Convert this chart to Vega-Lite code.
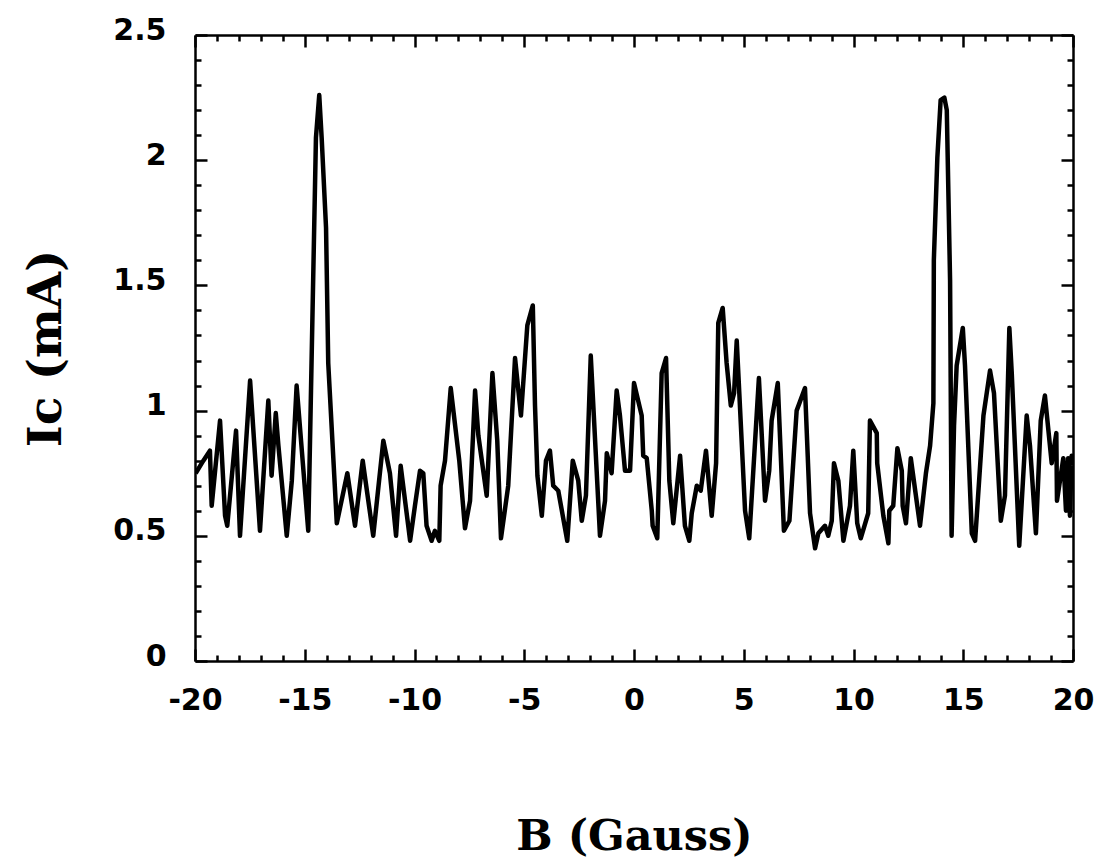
{
  "$schema": "https://vega.github.io/schema/vega-lite/v6.json",
  "autosize": {"type": "none"},
  "width": 878,
  "height": 626,
  "padding": {"left": 195, "top": 35, "right": 30, "bottom": 205},
  "background": "white",
  "config": {
    "view": {"stroke": null},
    "axis": {
      "grid": false,
      "domainColor": "black",
      "domainWidth": 2.5,
      "tickColor": "black",
      "tickWidth": 2.5,
      "labelColor": "black",
      "labelFont": "DejaVu Sans",
      "labelFontWeight": "bold",
      "labelFontSize": 30,
      "labelFlush": false,
      "labelOverlap": false,
      "labelExpr": "'' + datum.value",
      "titleColor": "black",
      "titleFont": "DejaVu Serif",
      "titleFontWeight": "bold",
      "titleFontSize": 43
    }
  },
  "data": {
    "values": [
      {"B": -19.97, "I": 0.75}, {"B": -19.62, "I": 0.80}, {"B": -19.32, "I": 0.84}, {"B": -19.24, "I": 0.62},
      {"B": -18.86, "I": 0.96}, {"B": -18.63, "I": 0.58}, {"B": -18.53, "I": 0.54}, {"B": -18.13, "I": 0.92},
      {"B": -17.95, "I": 0.50}, {"B": -17.49, "I": 1.12}, {"B": -17.04, "I": 0.52}, {"B": -16.66, "I": 1.04},
      {"B": -16.51, "I": 0.74}, {"B": -16.32, "I": 0.99}, {"B": -16.20, "I": 0.86}, {"B": -15.82, "I": 0.50},
      {"B": -15.59, "I": 0.72}, {"B": -15.37, "I": 1.10}, {"B": -14.84, "I": 0.52}, {"B": -14.49, "I": 2.09},
      {"B": -14.34, "I": 2.26}, {"B": -14.23, "I": 2.09}, {"B": -14.03, "I": 1.73}, {"B": -13.93, "I": 1.19},
      {"B": -13.54, "I": 0.55}, {"B": -13.06, "I": 0.75}, {"B": -12.71, "I": 0.54}, {"B": -12.36, "I": 0.80},
      {"B": -11.88, "I": 0.50}, {"B": -11.42, "I": 0.88}, {"B": -11.12, "I": 0.75}, {"B": -10.84, "I": 0.50},
      {"B": -10.63, "I": 0.78}, {"B": -10.20, "I": 0.48}, {"B": -9.98, "I": 0.62}, {"B": -9.75, "I": 0.76},
      {"B": -9.60, "I": 0.75}, {"B": -9.45, "I": 0.54}, {"B": -9.22, "I": 0.48}, {"B": -9.07, "I": 0.52},
      {"B": -8.87, "I": 0.48}, {"B": -8.81, "I": 0.70}, {"B": -8.61, "I": 0.80}, {"B": -8.35, "I": 1.09},
      {"B": -7.96, "I": 0.80}, {"B": -7.70, "I": 0.53}, {"B": -7.47, "I": 0.64}, {"B": -7.24, "I": 1.08},
      {"B": -7.09, "I": 0.90}, {"B": -6.71, "I": 0.66}, {"B": -6.45, "I": 1.15}, {"B": -6.23, "I": 0.88},
      {"B": -6.06, "I": 0.49}, {"B": -5.73, "I": 0.70}, {"B": -5.42, "I": 1.21}, {"B": -5.15, "I": 0.98},
      {"B": -4.86, "I": 1.34}, {"B": -4.61, "I": 1.42}, {"B": -4.51, "I": 1.02}, {"B": -4.40, "I": 0.74},
      {"B": -4.20, "I": 0.58}, {"B": -4.01, "I": 0.80}, {"B": -3.83, "I": 0.84}, {"B": -3.68, "I": 0.70},
      {"B": -3.45, "I": 0.68}, {"B": -3.04, "I": 0.48}, {"B": -2.79, "I": 0.80}, {"B": -2.54, "I": 0.72},
      {"B": -2.38, "I": 0.56}, {"B": -2.19, "I": 0.66}, {"B": -1.97, "I": 1.22}, {"B": -1.55, "I": 0.50},
      {"B": -1.32, "I": 0.64}, {"B": -1.24, "I": 0.83}, {"B": -1.02, "I": 0.75}, {"B": -0.79, "I": 1.08},
      {"B": -0.64, "I": 0.98}, {"B": -0.41, "I": 0.76}, {"B": -0.18, "I": 0.76}, {"B": 0.00, "I": 1.11},
      {"B": 0.35, "I": 0.98}, {"B": 0.42, "I": 0.82}, {"B": 0.58, "I": 0.81}, {"B": 0.81, "I": 0.60},
      {"B": 0.85, "I": 0.54}, {"B": 1.06, "I": 0.49}, {"B": 1.26, "I": 1.15}, {"B": 1.46, "I": 1.21},
      {"B": 1.61, "I": 0.72}, {"B": 1.79, "I": 0.55}, {"B": 2.10, "I": 0.82}, {"B": 2.32, "I": 0.54},
      {"B": 2.52, "I": 0.48}, {"B": 2.63, "I": 0.59}, {"B": 2.86, "I": 0.70}, {"B": 3.04, "I": 0.68},
      {"B": 3.28, "I": 0.84}, {"B": 3.54, "I": 0.58}, {"B": 3.74, "I": 0.79}, {"B": 3.84, "I": 1.35},
      {"B": 4.04, "I": 1.41}, {"B": 4.22, "I": 1.19}, {"B": 4.41, "I": 1.02}, {"B": 4.56, "I": 1.07},
      {"B": 4.68, "I": 1.28}, {"B": 5.06, "I": 0.60}, {"B": 5.25, "I": 0.49}, {"B": 5.69, "I": 1.13},
      {"B": 5.97, "I": 0.64}, {"B": 6.16, "I": 0.76}, {"B": 6.27, "I": 0.96}, {"B": 6.55, "I": 1.11},
      {"B": 6.83, "I": 0.52}, {"B": 7.08, "I": 0.56}, {"B": 7.41, "I": 1.00}, {"B": 7.79, "I": 1.09},
      {"B": 8.02, "I": 0.59}, {"B": 8.25, "I": 0.45}, {"B": 8.40, "I": 0.51}, {"B": 8.70, "I": 0.54},
      {"B": 8.85, "I": 0.50}, {"B": 9.01, "I": 0.56}, {"B": 9.11, "I": 0.79}, {"B": 9.31, "I": 0.72},
      {"B": 9.54, "I": 0.48}, {"B": 9.84, "I": 0.62}, {"B": 9.99, "I": 0.84}, {"B": 10.17, "I": 0.55},
      {"B": 10.33, "I": 0.49}, {"B": 10.67, "I": 0.59}, {"B": 10.75, "I": 0.96}, {"B": 11.06, "I": 0.91},
      {"B": 11.08, "I": 0.79}, {"B": 11.36, "I": 0.58}, {"B": 11.59, "I": 0.47}, {"B": 11.63, "I": 0.60},
      {"B": 11.81, "I": 0.62}, {"B": 12.00, "I": 0.85}, {"B": 12.20, "I": 0.76}, {"B": 12.24, "I": 0.62},
      {"B": 12.39, "I": 0.55}, {"B": 12.61, "I": 0.81}, {"B": 13.03, "I": 0.54}, {"B": 13.30, "I": 0.75},
      {"B": 13.49, "I": 0.86}, {"B": 13.64, "I": 1.03}, {"B": 13.66, "I": 1.60}, {"B": 13.82, "I": 2.01},
      {"B": 13.97, "I": 2.24}, {"B": 14.14, "I": 2.25}, {"B": 14.25, "I": 2.20}, {"B": 14.40, "I": 1.52},
      {"B": 14.47, "I": 0.50}, {"B": 14.58, "I": 0.94}, {"B": 14.70, "I": 1.18}, {"B": 14.98, "I": 1.33},
      {"B": 15.08, "I": 1.18}, {"B": 15.39, "I": 0.51}, {"B": 15.54, "I": 0.48}, {"B": 15.92, "I": 0.98},
      {"B": 16.22, "I": 1.16}, {"B": 16.40, "I": 1.07}, {"B": 16.71, "I": 0.56}, {"B": 16.90, "I": 0.66},
      {"B": 17.10, "I": 1.33}, {"B": 17.21, "I": 1.15}, {"B": 17.55, "I": 0.46}, {"B": 17.89, "I": 0.98},
      {"B": 18.04, "I": 0.86}, {"B": 18.31, "I": 0.51}, {"B": 18.53, "I": 0.96}, {"B": 18.72, "I": 1.06},
      {"B": 19.03, "I": 0.79}, {"B": 19.24, "I": 0.91}, {"B": 19.27, "I": 0.64}, {"B": 19.56, "I": 0.81},
      {"B": 19.68, "I": 0.60}, {"B": 19.78, "I": 0.81}, {"B": 19.86, "I": 0.58}, {"B": 19.94, "I": 0.82},
      {"B": 20.00, "I": 0.78}
    ]
  },
  "layer": [
    {
      "mark": {"type": "line", "color": "black", "strokeWidth": 4.5, "strokeJoin": "round", "clip": true},
      "encoding": {
        "x": {"field": "B", "type": "quantitative", "scale": {"domain": [-20, 20], "nice": false, "zero": false},
          "axis": {"orient": "bottom", "values": [-20, -15, -10, -5, 0, 5, 10, 15, 20], "tickSize": -12, "labelPadding": 36,
            "title": "B (Gauss)", "titlePadding": 100}},
        "y": {"field": "I", "type": "quantitative", "scale": {"domain": [0, 2.5], "nice": false},
          "axis": {"orient": "left", "values": [0, 0.5, 1, 1.5, 2, 2.5], "tickSize": -12, "labelPadding": 41, "labelOffset": -5,
            "title": "Ic (mA)", "titlePadding": 42, "titleFontSize": 47}}
      }
    },
    {
      "mark": {"type": "line", "strokeOpacity": 0},
      "encoding": {
        "x": {"field": "B", "type": "quantitative",
          "axis": {"orient": "bottom", "values": [-19, -18, -17, -16, -14, -13, -12, -11, -9, -8, -7, -6, -4, -3, -2, -1, 1, 2, 3, 4, 6, 7, 8, 9, 11, 12, 13, 14, 16, 17, 18, 19],
            "tickSize": -6, "labels": false, "domain": false, "title": null}},
        "y": {"field": "I", "type": "quantitative",
          "axis": {"orient": "left", "values": [0.1, 0.2, 0.3, 0.4, 0.6, 0.7, 0.8, 0.9, 1.1, 1.2, 1.3, 1.4, 1.6, 1.7, 1.8, 1.9, 2.1, 2.2, 2.3, 2.4],
            "tickSize": -6, "labels": false, "domain": false, "title": null}}
      }
    },
    {
      "mark": {"type": "line", "strokeOpacity": 0},
      "encoding": {
        "x": {"field": "B", "type": "quantitative",
          "axis": {"orient": "top", "values": [-20, -15, -10, -5, 0, 5, 10, 15, 20], "tickSize": -12, "labels": false, "title": null}},
        "y": {"field": "I", "type": "quantitative",
          "axis": {"orient": "right", "values": [0, 0.5, 1, 1.5, 2, 2.5], "tickSize": -12, "labels": false, "title": null}}
      }
    },
    {
      "mark": {"type": "line", "strokeOpacity": 0},
      "encoding": {
        "x": {"field": "B", "type": "quantitative",
          "axis": {"orient": "top", "values": [-19, -18, -17, -16, -14, -13, -12, -11, -9, -8, -7, -6, -4, -3, -2, -1, 1, 2, 3, 4, 6, 7, 8, 9, 11, 12, 13, 14, 16, 17, 18, 19],
            "tickSize": -6, "labels": false, "domain": false, "title": null}},
        "y": {"field": "I", "type": "quantitative",
          "axis": {"orient": "right", "values": [0.1, 0.2, 0.3, 0.4, 0.6, 0.7, 0.8, 0.9, 1.1, 1.2, 1.3, 1.4, 1.6, 1.7, 1.8, 1.9, 2.1, 2.2, 2.3, 2.4],
            "tickSize": -6, "labels": false, "domain": false, "title": null}}
      }
    }
  ],
  "resolve": {"axis": {"x": "independent", "y": "independent"}}
}
